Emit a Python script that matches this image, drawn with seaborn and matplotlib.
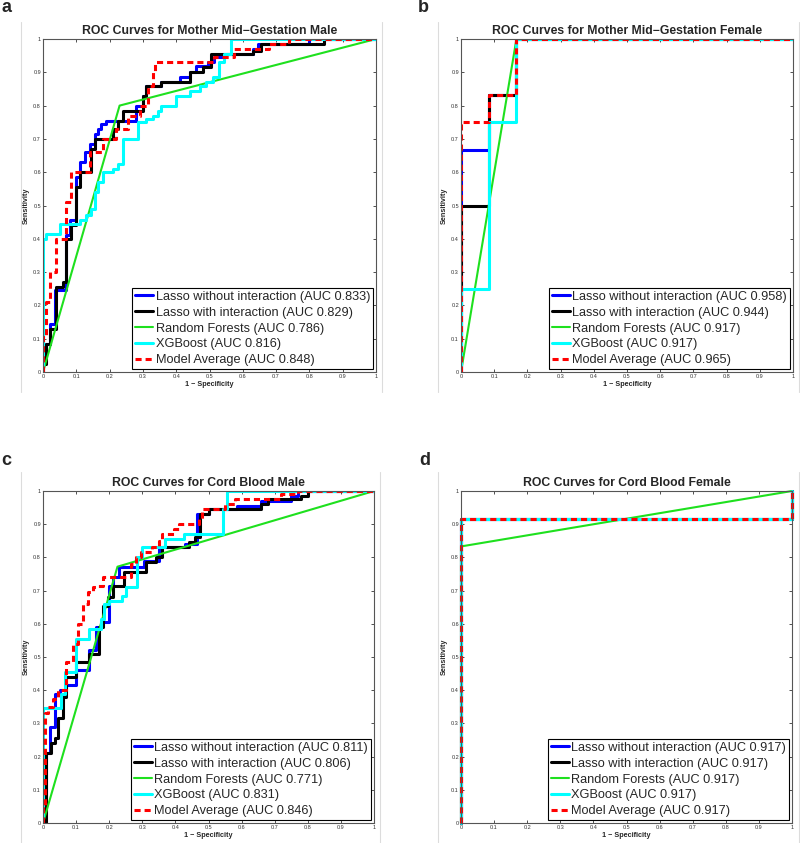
import numpy as np
import matplotlib
matplotlib.use("Agg")
import matplotlib.pyplot as plt
from matplotlib.lines import Line2D
import seaborn as sns

# ---- data: ROC staircases, stored as (right end of step, level) ----
MODELS = ["Lasso without interaction", "Lasso with interaction",
          "Random Forests", "XGBoost", "Model Average"]
TITLES = ["ROC Curves for Mother Mid\u2212Gestation Male",
          "ROC Curves for Mother Mid\u2212Gestation Female",
          "ROC Curves for Cord Blood Male",
          "ROC Curves for Cord Blood Female"]
PANEL_TAGS = ["a", "b", "c", "d"]
AUC = [[0.833, 0.829, 0.786, 0.816, 0.848],
       [0.958, 0.944, 0.917, 0.917, 0.965],
       [0.811, 0.806, 0.771, 0.831, 0.846],
       [0.917, 0.917, 0.917, 0.917, 0.917]]
TICK_LABELS = ["0", "0.1", "0.2", "0.3", "0.4", "0.5", "0.6", "0.7", "0.8", "0.9", "1"]

# panel a  (Mother mid-gestation, male)
a_lasso_x = [0, 0.01, 0.02, 0.035, 0.07, 0.08, 0.10, 0.11, 0.125, 0.14, 0.155, 0.165, 0.175, 0.19, 0.28,
             0.30, 0.31, 0.355, 0.41, 0.44, 0.46, 0.495, 0.515, 0.55, 0.63, 0.645, 0.80, 1.0]
a_lasso_y = [0, 0.055, 0.085, 0.145, 0.245, 0.41, 0.455, 0.585, 0.63, 0.66, 0.685, 0.715, 0.73, 0.745, 0.755,
             0.80, 0.83, 0.86, 0.87, 0.885, 0.90, 0.92, 0.93, 0.945, 0.955, 0.97, 0.985, 1.0]
a_inter_x = [0, 0.01, 0.02, 0.04, 0.06, 0.07, 0.085, 0.10, 0.11, 0.145, 0.155, 0.21, 0.225, 0.24, 0.30,
             0.31, 0.355, 0.44, 0.48, 0.505, 0.63, 0.655, 0.845, 1.0]
a_inter_y = [0, 0.025, 0.085, 0.13, 0.255, 0.27, 0.40, 0.44, 0.555, 0.60, 0.67, 0.70, 0.73, 0.755, 0.785,
             0.83, 0.86, 0.87, 0.90, 0.915, 0.955, 0.965, 0.985, 1.0]
a_rf_x = [0, 0.23, 1.0]
a_rf_y = [0, 0.80, 1.0]
a_xgb_x = [0, 0.01, 0.05, 0.11, 0.13, 0.145, 0.155, 0.165, 0.18, 0.21, 0.225, 0.24, 0.285, 0.31, 0.33,
           0.345, 0.355, 0.40, 0.44, 0.47, 0.49, 0.51, 0.53, 0.545, 0.565, 1.0]
a_xgb_y = [0, 0.40, 0.415, 0.445, 0.455, 0.47, 0.49, 0.54, 0.57, 0.60, 0.61, 0.625, 0.70, 0.75, 0.76,
           0.77, 0.785, 0.80, 0.83, 0.845, 0.86, 0.87, 0.885, 0.93, 0.955, 1.0]
a_avg_x = [0, 0.01, 0.02, 0.04, 0.07, 0.085, 0.14, 0.18, 0.22, 0.255, 0.29, 0.315, 0.33, 0.335, 0.515,
           0.575, 0.68, 0.74, 1.0]
a_avg_y = [0, 0.11, 0.21, 0.30, 0.40, 0.51, 0.60, 0.66, 0.70, 0.73, 0.77, 0.80, 0.86, 0.90, 0.93,
           0.945, 0.97, 0.985, 1.0]

# panel b  (Mother mid-gestation, female)
b_lasso_x = [0, 0.083, 0.167, 1.0]
b_lasso_y = [0, 0.667, 0.833, 1.0]
b_inter_x = [0, 0.083, 0.167, 1.0]
b_inter_y = [0, 0.50, 0.833, 1.0]
b_rf_x = [0, 0.167, 1.0]
b_rf_y = [0, 1.0, 1.0]
b_xgb_x = [0, 0.083, 0.167, 1.0]
b_xgb_y = [0, 0.25, 0.75, 1.0]
b_avg_x = [0, 0.083, 0.167, 1.0]
b_avg_y = [0, 0.75, 0.833, 1.0]

# panel c  (Cord blood, male)
c_lasso_x = [0, 0.01, 0.02, 0.035, 0.05, 0.07, 0.10, 0.14, 0.16, 0.175, 0.20, 0.21, 0.23, 0.305, 0.35,
             0.36, 0.43, 0.465, 0.50, 0.585, 0.66, 0.75, 0.77, 1.0]
c_lasso_y = [0, 0.045, 0.21, 0.29, 0.39, 0.40, 0.415, 0.46, 0.52, 0.59, 0.605, 0.715, 0.74, 0.77, 0.79,
             0.825, 0.83, 0.84, 0.93, 0.945, 0.955, 0.97, 0.985, 1.0]
c_inter_x = [0, 0.01, 0.025, 0.035, 0.045, 0.06, 0.07, 0.10, 0.14, 0.17, 0.18, 0.195, 0.21, 0.245, 0.31,
             0.34, 0.36, 0.44, 0.46, 0.475, 0.50, 0.66, 0.68, 0.78, 0.80, 1.0]
c_inter_y = [0, 0, 0.21, 0.24, 0.255, 0.315, 0.38, 0.44, 0.485, 0.51, 0.59, 0.655, 0.68, 0.715, 0.755,
             0.785, 0.80, 0.83, 0.845, 0.86, 0.93, 0.945, 0.96, 0.975, 0.985, 1.0]
c_rf_x = [0, 0.225, 1.0]
c_rf_y = [0, 0.772, 1.0]
c_xgb_x = [0, 0.055, 0.065, 0.10, 0.14, 0.175, 0.185, 0.20, 0.24, 0.25, 0.285, 0.30, 0.37, 0.425, 0.545,
           0.555, 1.0]
c_xgb_y = [0, 0.345, 0.39, 0.455, 0.555, 0.585, 0.615, 0.66, 0.67, 0.685, 0.71, 0.80, 0.83, 0.855, 0.87,
           0.945, 1.0]
c_avg_x = [0, 0.005, 0.015, 0.03, 0.045, 0.07, 0.09, 0.105, 0.12, 0.135, 0.15, 0.165, 0.18, 0.265, 0.28,
           0.295, 0.33, 0.35, 0.36, 0.395, 0.41, 0.47, 0.48, 0.55, 0.58, 0.72, 0.77, 1.0]
c_avg_y = [0, 0.05, 0.33, 0.35, 0.375, 0.40, 0.485, 0.54, 0.60, 0.66, 0.695, 0.71, 0.715, 0.74, 0.78,
           0.80, 0.815, 0.83, 0.85, 0.87, 0.885, 0.90, 0.915, 0.945, 0.96, 0.975, 0.99, 1.0]

# panel d  (Cord blood, female)
d_lasso_x = [0, 1.0, 1.0]
d_lasso_y = [0, 0.917, 1.0]
d_inter_x = [0, 1.0, 1.0]
d_inter_y = [0, 0.917, 1.0]
d_rf_x = [0, 0, 1.0]
d_rf_y = [0, 0.833, 1.0]
d_xgb_x = [0, 1.0, 1.0]
d_xgb_y = [0, 0.917, 1.0]
d_avg_x = [0, 1.0, 1.0]
d_avg_y = [0, 0.917, 1.0]

CURVES = [
    [(a_lasso_x, a_lasso_y), (a_inter_x, a_inter_y), (a_rf_x, a_rf_y), (a_xgb_x, a_xgb_y), (a_avg_x, a_avg_y)],
    [(b_lasso_x, b_lasso_y), (b_inter_x, b_inter_y), (b_rf_x, b_rf_y), (b_xgb_x, b_xgb_y), (b_avg_x, b_avg_y)],
    [(c_lasso_x, c_lasso_y), (c_inter_x, c_inter_y), (c_rf_x, c_rf_y), (c_xgb_x, c_xgb_y), (c_avg_x, c_avg_y)],
    [(d_lasso_x, d_lasso_y), (d_inter_x, d_inter_y), (d_rf_x, d_rf_y), (d_xgb_x, d_xgb_y), (d_avg_x, d_avg_y)],
]

COLORS = ["#0000ff", "#000000", "#1ee01e", "#00ffff", "#ff0000"]
WIDTHS = [2.2, 2.2, 1.5, 2.2, 2.2]
STYLES = ["-", "-", "-", "-", (0, (2.0, 1.3))]
STEPPED = [True, True, False, True, True]

sns.set_style("white")
plt.rcParams["font.family"] = ["Liberation Sans", "DejaVu Sans"]

W, H = 800, 843
fig = plt.figure(figsize=(W / 100, H / 100), dpi=100)

# axes boxes in pixels: left, top, right, bottom
boxes = [(43, 39, 376, 372), (461, 39, 793, 372), (43, 491, 374, 823), (461, 491, 792, 823)]
tag_pos = [(1, 11.5), (418, 12.5), (1, 465), (419, 465)]
frames = [(21, 382, 22, 392), (438, 799, 22, 392), (21, 380, 472, 843), (438, 799, 472, 843)]

for k in range(4):
    l, t, r, b = boxes[k]
    ax = fig.add_axes([l / W, 1 - b / H, (r - l) / W, (b - t) / H])
    for m in range(5):
        x, y = CURVES[k][m]
        sns.lineplot(x=x, y=y, ax=ax, sort=False, estimator=None, color=COLORS[m],
                     lw=WIDTHS[m], linestyle=STYLES[m],
                     drawstyle="steps-pre" if STEPPED[m] else "default",
                     label=f"{MODELS[m]} (AUC {AUC[k][m]:.3f})", clip_on=False if k == 3 else True)
    ax.set_xlim(0, 1); ax.set_ylim(0, 1)
    ticks = np.linspace(0, 1, 11)
    ax.set_xticks(ticks); ax.set_xticklabels(TICK_LABELS)
    ax.set_yticks(ticks); ax.set_yticklabels(TICK_LABELS)
    ax.tick_params(direction="in", length=2.5, width=0.6, labelsize=4, pad=1.5,
                   top=True, right=True, bottom=True, left=True, colors="#333333")
    for s in ax.spines.values():
        s.set_color("#555555"); s.set_linewidth(0.8)
    ax.set_title(TITLES[k], fontsize=8.8, fontweight="bold", pad=3.5)
    ax.set_xlabel("1 \u2212 Specificity", fontsize=5.2, fontweight="bold", labelpad=1.5)
    ax.set_ylabel("Sensitivity", fontsize=5.2, fontweight="bold", labelpad=2)
    leg = ax.legend(loc="lower right", fontsize=9.2, frameon=True, fancybox=False, edgecolor="black",
                    framealpha=1, borderpad=0.25, labelspacing=0.3, handlelength=1.4,
                    handletextpad=0.2, borderaxespad=0.2)
    leg.get_frame().set_linewidth(0.8)
    fig.text(tag_pos[k][0] / W, 1 - tag_pos[k][1] / H, PANEL_TAGS[k], fontsize=13,
             fontweight="bold", va="baseline", ha="left")
    fl, fr, ft, fb = frames[k]
    for xx in (fl, fr):
        fig.add_artist(Line2D([xx / W, xx / W], [1 - ft / H, 1 - fb / H], color="#dcdcdc", lw=0.8))

fig.savefig("out.png", dpi=100)
